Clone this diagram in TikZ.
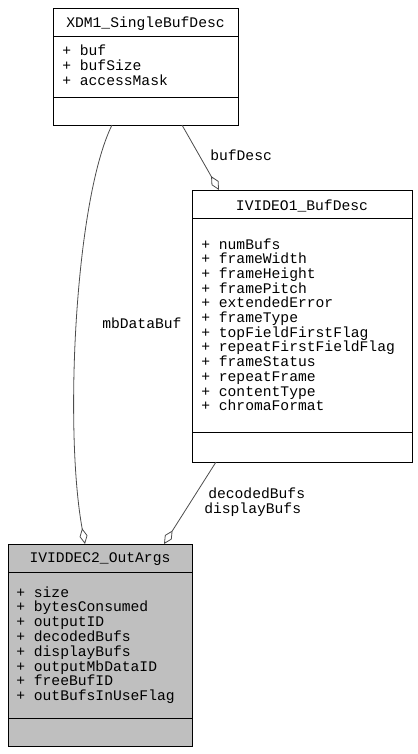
\documentclass[tikz,border=0pt]{standalone}
\usepackage{fontspec}
\setmonofont{Liberation Mono}
\usetikzlibrary{arrows.meta,calc}

\definecolor{argsgray}{RGB}{191,191,191}
\newcommand{\umlfont}{\ttfamily\fontsize{11}{11.1}\selectfont}

\begin{document}
\begin{tikzpicture}[x=0.75pt,y=-0.75pt,
  classbox/.style={draw, line width=0.75pt, anchor=north west, inner sep=0pt, outer sep=0pt},
  classname/.style={anchor=base, inner sep=0pt, font=\umlfont},
  member/.style={anchor=base west, inner sep=0pt, font=\umlfont},
  rolename/.style={anchor=base west, inner sep=0pt, font=\umlfont},
  aggregation/.style={draw=black!70, line width=0.6pt, -{Diamond[open,length=12pt,width=6pt]}}]

\useasboundingbox (0,0) rectangle (418,754);

\def\px{0.75pt}

\node[classbox, minimum width=185*\px, minimum height=117*\px] (single) at (53,8) {};
\node[classbox, minimum width=220*\px, minimum height=272*\px] (bufdesc) at (192,190) {};
\node[classbox, fill=argsgray, minimum width=184*\px, minimum height=202*\px] (outargs) at (8,544) {};

\foreach \b/\ya/\yb in {single/36/97, bufdesc/218/432, outargs/572/718} {
  \draw[line width=0.75pt] (\b.west |- 0,\ya) -- (\b.east |- 0,\ya);
  \draw[line width=0.75pt] (\b.west |- 0,\yb) -- (\b.east |- 0,\yb);
}

\node[classname] (single-title) at (145.5,27) {XDM1\_SingleBufDesc};
\node[classname] (bufdesc-title) at (302,210) {IVIDEO1\_BufDesc};
\node[classname] (outargs-title) at (100,562) {IVIDDEC2\_OutArgs};

\foreach \m [count=\i from 0] in {buf,bufSize,accessMask}
  \node[member] (single-\i) at (62,55+15*\i) {+ \m};

\foreach \m [count=\i from 0] in {numBufs,frameWidth,frameHeight,framePitch,extendedError,frameType,topFieldFirstFlag,repeatFirstFieldFlag,frameStatus,repeatFrame,contentType,chromaFormat}
  \node[member] (bufdesc-\i) at (201,249+14.7*\i) {+ \m};

\foreach \m [count=\i from 0] in {size,bytesConsumed,outputID,decodedBufs,displayBufs,outputMbDataID,freeBufID,outBufsInUseFlag}
  \node[member] (outargs-\i) at (16,597+14.8*\i) {+ \m};

\draw[aggregation] ($(single.south west)+(129,0)$) -- ($(bufdesc.north west)+(27,0)$);
\draw[aggregation] ($(single.south west)+(59,0)$) .. controls (75,200) and (64,430) .. ($(outargs.north west)+(77,0)$);
\draw[aggregation] ($(bufdesc.south west)+(24,0)$) -- ($(outargs.north west)+(156,0)$);

\node[rolename] (bufdesc-role) at (210,160) {bufDesc};
\node[rolename] (mbdata-role) at (102,328) {mbDataBuf};
\node[rolename] (decoded-role) at (208,498) {decodedBufs};
\node[rolename] (display-role) at (204,513) {displayBufs};

\end{tikzpicture}
\end{document}
